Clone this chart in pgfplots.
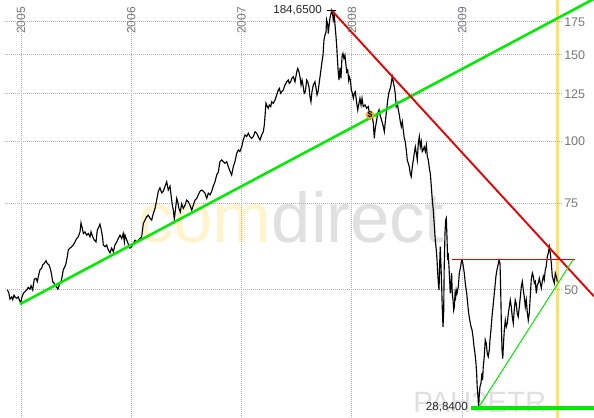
\documentclass[border=0pt]{standalone}
\usepackage{pgfplots}
\pgfplotsset{compat=1.18}
\usepackage{fontspec}
\setmainfont{Liberation Sans}
\definecolor{gridc}{RGB}{175,175,200}
\definecolor{lbl}{RGB}{120,120,120}
\definecolor{brightgreen}{RGB}{0,235,0}
\definecolor{trendred}{RGB}{235,0,0}
\definecolor{band}{RGB}{250,224,125}
\definecolor{wmgray}{RGB}{224,224,224}
\definecolor{wmyellow}{RGB}{255,244,205}
\definecolor{divid}{RGB}{245,175,20}
\tikzset{gridl/.style={gridc, line width=0.75pt, dash pattern=on 0.75pt off 0.75pt}}

\pgfplotstableread{
x y
2004.876 50.0
2004.889 49.4
2004.900 47.9
2004.916 48.4
2004.925 47.8
2004.937 48.8
2004.948 48.3
2004.961 48.1
2004.976 48.4
2004.985 47.7
2004.997 47.1
2005.009 48.4
2005.021 49.2
2005.036 49.6
2005.052 50.0
2005.066 50.6
2005.082 50.2
2005.091 51.0
2005.106 50.0
2005.112 51.2
2005.121 52.6
2005.136 52.8
2005.148 52.0
2005.160 53.6
2005.172 54.9
2005.188 55.4
2005.197 56.2
2005.211 56.6
2005.227 57.3
2005.238 56.6
2005.254 56.2
2005.269 54.9
2005.278 53.6
2005.287 52.0
2005.299 51.6
2005.311 51.2
2005.324 50.6
2005.335 50.2
2005.347 51.2
2005.363 52.0
2005.374 53.4
2005.383 54.9
2005.399 55.8
2005.408 56.6
2005.420 58.5
2005.429 60.3
2005.444 60.8
2005.460 61.2
2005.474 61.7
2005.490 62.6
2005.505 63.6
2005.519 64.1
2005.535 65.6
2005.544 68.4
2005.556 66.7
2005.565 65.1
2005.580 65.6
2005.596 64.6
2005.610 65.1
2005.626 64.1
2005.635 65.6
2005.650 64.1
2005.665 63.1
2005.680 62.6
2005.692 66.2
2005.707 67.2
2005.716 68.0
2005.728 66.2
2005.741 63.6
2005.746 61.7
2005.762 61.2
2005.777 61.7
2005.791 60.3
2005.807 59.5
2005.822 60.8
2005.837 59.8
2005.852 61.7
2005.868 62.6
2005.882 63.6
2005.898 64.6
2005.913 63.6
2005.927 65.1
2005.937 62.6
2005.943 64.6
2005.966 62.5
2005.988 60.8
2006.004 61.2
2006.018 62.1
2006.034 63.1
2006.049 62.6
2006.063 63.1
2006.079 63.6
2006.094 64.1
2006.109 68.2
2006.124 69.3
2006.140 70.4
2006.154 70.9
2006.170 69.9
2006.185 69.3
2006.199 71.4
2006.215 73.2
2006.230 76.1
2006.245 79.3
2006.260 80.6
2006.276 78.7
2006.290 79.3
2006.306 81.2
2006.321 82.9
2006.335 79.8
2006.351 81.2
2006.360 78.0
2006.372 74.3
2006.381 72.6
2006.390 69.5
2006.403 73.7
2006.412 76.7
2006.421 75.5
2006.432 73.2
2006.444 72.0
2006.457 74.8
2006.471 73.2
2006.487 74.3
2006.502 76.1
2006.517 75.5
2006.532 74.3
2006.548 72.6
2006.562 74.3
2006.578 76.1
2006.593 76.7
2006.607 78.0
2006.623 79.3
2006.638 79.8
2006.653 79.3
2006.668 78.6
2006.684 76.7
2006.698 78.6
2006.714 78.0
2006.729 79.3
2006.743 81.2
2006.759 82.9
2006.774 85.6
2006.789 86.8
2006.804 91.1
2006.820 91.8
2006.834 91.1
2006.850 90.4
2006.865 91.1
2006.879 89.0
2006.895 87.1
2006.910 85.6
2006.925 89.0
2006.940 91.1
2006.956 94.8
2006.970 96.2
2006.985 95.5
2007.001 97.7
2007.015 100.8
2007.031 103.2
2007.046 102.4
2007.061 104.0
2007.076 102.4
2007.092 101.6
2007.106 102.4
2007.122 104.8
2007.137 104.0
2007.151 102.4
2007.167 100.8
2007.182 103.2
2007.197 104.8
2007.206 108.1
2007.212 112.5
2007.221 119.7
2007.233 117.8
2007.242 116.9
2007.251 118.7
2007.264 117.8
2007.273 120.5
2007.287 119.6
2007.303 121.5
2007.318 124.4
2007.333 127.3
2007.342 128.3
2007.354 125.4
2007.364 126.3
2007.378 127.3
2007.393 130.3
2007.409 132.3
2007.423 133.4
2007.432 131.3
2007.445 132.3
2007.454 134.4
2007.469 135.5
2007.484 132.3
2007.500 138.6
2007.509 140.8
2007.520 138.6
2007.529 135.5
2007.539 130.3
2007.548 133.4
2007.559 129.2
2007.568 125.4
2007.578 126.3
2007.590 133.4
2007.599 132.3
2007.611 129.2
2007.620 123.4
2007.629 120.5
2007.638 126.3
2007.650 130.3
2007.665 132.3
2007.675 128.3
2007.684 124.4
2007.693 126.3
2007.705 132.3
2007.717 138.6
2007.729 145.3
2007.738 149.8
2007.747 160.9
2007.756 164.7
2007.765 166.7
2007.771 176.6
2007.781 172.5
2007.786 165.8
2007.792 171.2
2007.801 178.3
2007.810 181.8
2007.817 184.65
2007.826 181.0
2007.831 176.6
2007.840 181.0
2007.847 172.5
2007.856 163.4
2007.862 156.6
2007.871 144.3
2007.877 137.7
2007.883 133.4
2007.892 141.1
2007.901 134.4
2007.910 148.6
2007.919 151.0
2007.928 147.5
2007.937 149.8
2007.946 143.3
2007.953 138.6
2007.962 139.8
2007.971 133.4
2007.976 135.5
2007.986 133.4
2007.995 127.3
2008.004 125.4
2008.013 122.5
2008.022 125.4
2008.031 126.3
2008.044 119.6
2008.053 116.0
2008.058 117.8
2008.067 120.5
2008.073 122.5
2008.083 118.7
2008.092 122.5
2008.103 117.8
2008.119 118.7
2008.134 116.9
2008.149 117.8
2008.158 114.2
2008.170 111.6
2008.182 113.3
2008.194 109.0
2008.203 101.6
2008.212 106.5
2008.225 110.7
2008.234 114.2
2008.246 116.0
2008.255 113.3
2008.264 111.6
2008.273 109.8
2008.285 107.3
2008.294 104.8
2008.303 109.8
2008.315 116.0
2008.325 121.5
2008.334 125.4
2008.343 127.3
2008.352 129.3
2008.361 133.4
2008.366 135.5
2008.375 132.3
2008.384 129.3
2008.393 125.4
2008.402 117.8
2008.412 119.6
2008.421 116.0
2008.430 113.3
2008.439 109.8
2008.448 107.3
2008.457 109.8
2008.466 105.6
2008.475 101.6
2008.484 100.0
2008.493 96.2
2008.502 91.8
2008.511 90.4
2008.520 89.0
2008.529 86.2
2008.538 84.9
2008.548 89.0
2008.557 91.8
2008.566 94.8
2008.575 97.6
2008.584 94.8
2008.593 91.8
2008.602 99.2
2008.611 102.4
2008.620 97.6
2008.629 100.0
2008.638 95.5
2008.647 96.2
2008.656 97.6
2008.666 95.5
2008.675 98.4
2008.684 93.2
2008.693 91.8
2008.702 88.3
2008.711 86.2
2008.720 81.2
2008.729 76.1
2008.738 72.6
2008.747 67.7
2008.756 63.1
2008.765 60.3
2008.772 57.5
2008.778 54.1
2008.784 51.6
2008.790 50.0
2008.796 56.6
2008.801 61.2
2008.808 55.8
2008.814 50.8
2008.819 46.2
2008.826 42.1
2008.832 44.8
2008.837 55.8
2008.844 65.2
2008.850 69.3
2008.856 69.9
2008.862 64.1
2008.868 57.5
2008.873 59.4
2008.880 55.8
2008.886 52.4
2008.892 49.2
2008.898 50.8
2008.904 54.1
2008.910 49.2
2008.917 47.7
2008.923 45.5
2008.929 46.2
2008.935 49.2
2008.941 48.4
2008.946 50.0
2008.953 49.2
2008.965 50.8
2008.974 54.1
2008.986 55.8
2008.995 57.5
2009.001 57.5
2009.010 55.8
2009.019 54.1
2009.028 51.6
2009.041 49.2
2009.050 46.9
2009.059 44.8
2009.071 43.1
2009.080 42.1
2009.089 41.5
2009.098 40.2
2009.107 38.4
2009.116 37.2
2009.125 35.5
2009.131 33.9
2009.136 31.8
2009.143 30.4
2009.149 28.84
2009.154 30.4
2009.161 31.8
2009.170 32.3
2009.179 33.9
2009.185 32.8
2009.191 34.9
2009.200 36.6
2009.209 39.6
2009.218 39.0
2009.227 37.2
2009.236 36.6
2009.246 37.8
2009.252 39.6
2009.261 41.5
2009.270 44.1
2009.279 46.2
2009.288 48.4
2009.297 50.8
2009.306 53.3
2009.315 54.9
2009.325 56.2
2009.334 57.5
2009.343 56.6
2009.349 50.0
2009.355 42.8
2009.361 37.8
2009.368 36.3
2009.373 38.4
2009.382 41.5
2009.391 43.4
2009.400 42.1
2009.409 42.8
2009.418 44.8
2009.427 46.2
2009.436 47.7
2009.445 46.2
2009.454 44.1
2009.463 42.8
2009.472 45.5
2009.481 47.7
2009.490 46.9
2009.499 44.8
2009.508 44.1
2009.518 46.2
2009.527 48.4
2009.536 50.8
2009.545 52.0
2009.554 50.0
2009.563 48.4
2009.572 46.2
2009.581 47.7
2009.590 45.1
2009.599 43.4
2009.608 44.8
2009.617 48.4
2009.626 52.4
2009.636 54.1
2009.645 53.3
2009.654 51.6
2009.663 52.0
2009.672 49.2
2009.681 51.2
2009.690 51.6
2009.699 52.8
2009.708 51.6
2009.717 50.4
2009.726 52.0
2009.735 53.3
2009.744 52.4
2009.753 54.9
2009.762 55.8
2009.772 58.5
2009.781 59.4
2009.790 61.2
2009.799 59.4
2009.808 56.6
2009.817 53.3
2009.826 52.4
2009.835 51.6
2009.844 54.1
2009.853 53.3
2009.862 52.0
}\price

\begin{document}
\begin{tikzpicture}
\begin{axis}[
    scale only axis,
    width=445.5pt, height=313.5pt,
    xmin=2004.8096, xmax=2010.195,
    ymin=27.48, ymax=193.96,
    ymode=log,
    axis line style={draw=none},
    xtick=\empty, ytick=\empty,
]

% Wasserzeichen
\node[anchor=base west, inner sep=0pt, font=\fontsize{53}{53}\selectfont]
    at (axis cs:2006.061,62.5) {\textcolor{wmyellow}{com}\textcolor{wmgray}{direct}};
\node[anchor=base west, inner sep=0pt, font=\fontsize{22}{22}\selectfont, wmgray]
    at (axis cs:2008.554,28.2) {PAH3ETR};

% gelbes Band (aktueller Tag)
\addplot[draw=none, fill=band] coordinates {(2009.846,27.48) (2009.878,27.48) (2009.878,193.96) (2009.846,193.96)} -- cycle;

% Gitter
\pgfplotsinvokeforeach{50,75,100,125,150,175}{
  \draw[gridl] (axis cs:2004.855,#1) -- (axis cs:2009.914,#1);
}
\pgfplotsinvokeforeach{2005,2006,2007,2008,2009}{
  \draw[gridl] (axis cs:#1,186) -- (axis cs:#1,27.48);
}

% Kurs
\addplot[black, line width=0.85pt] table[x=x, y=y] {\price};

% Trendlinien
\addplot[brightgreen, line width=1.9pt] coordinates {(2004.991,46.8) (2010.195,195.0)};
\addplot[trendred, line width=1.4pt] coordinates {(2007.817,184.65) (2010.195,48.5)};
\addplot[trendred, line width=0.75pt] coordinates {(2008.908,57.6) (2010.023,57.6)};
\addplot[brightgreen, line width=0.75pt] coordinates {(2009.148,28.84) (2010.005,57.6)};
\addplot[brightgreen, line width=3pt] coordinates {(2009.080,28.84) (2010.195,28.84)};
\addplot[black, line width=0.75pt] coordinates {(2007.774,184.65) (2007.856,184.65)};

% Dividende
\addplot[only marks, mark=*, mark size=3pt, divid,
    nodes near coords={\$},
    every node near coord/.style={anchor=center, inner sep=0pt, black,
        font=\fontsize{6.5}{6.5}\selectfont\bfseries}]
    coordinates {(2008.164,113.3)};

% Extremwerte
\node[anchor=east, inner sep=0pt, xshift=-7.3pt, font=\fontsize{8.7}{9}\selectfont, black!85]
    at (axis cs:2007.817,184.65) {184,6500};
\node[anchor=east, inner sep=0pt, xshift=-2.2pt, font=\fontsize{8.7}{9}\selectfont, black!85]
    at (axis cs:2009.080,28.84) {28,8400};

% Jahre
\pgfplotsinvokeforeach{2005,2006,2007,2008,2009}{
  \node[rotate=90, xshift=3.75pt, inner sep=0pt, lbl, font=\fontsize{9}{9}\selectfont]
      at (axis cs:#1,172.2) {#1};
}

% Kursachse rechts
\pgfplotsinvokeforeach{50,75,100,125,150,175}{
  \node[anchor=west, inner sep=0pt, lbl, font=\fontsize{9.4}{10}\selectfont]
      at (axis cs:2009.923,#1) {#1};
}

\end{axis}
\pgfresetboundingbox
\path[use as bounding box] (current axis.south west) rectangle (current axis.north east);
\end{tikzpicture}
\end{document}
